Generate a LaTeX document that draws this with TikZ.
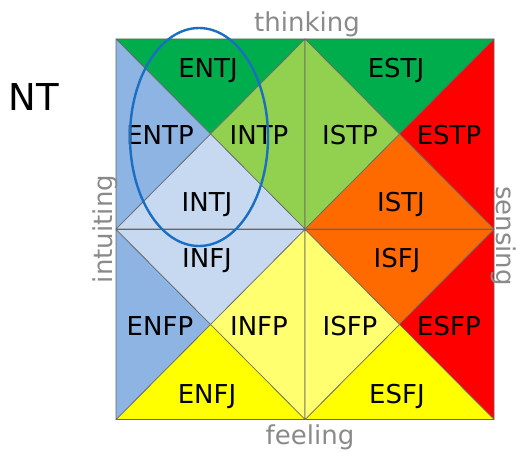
\documentclass[tikz,border=0pt]{standalone}
\usepackage{fontspec}
\setmainfont{DejaVu Sans}
\usetikzlibrary{positioning}
\definecolor{darkgreen}{HTML}{00AD4C}
\definecolor{lightgreen}{HTML}{92D050}
\definecolor{typered}{HTML}{FF0000}
\definecolor{typeorange}{HTML}{FF6A00}
\definecolor{typeyellow}{HTML}{FFFF00}
\definecolor{paleyellow}{HTML}{FFFF70}
\definecolor{midblue}{HTML}{8DB4E2}
\definecolor{paleblue}{HTML}{C6D9F1}
\definecolor{sidegray}{HTML}{8A8A8A}
\definecolor{ringblue}{HTML}{1A6FC2}

\begin{document}
\begin{tikzpicture}[x=1pt, y=-1pt,
        piece/.style={draw=black!60, line width=0.6pt, line join=round},
        mbti/.style={font=\fontsize{26}{26}\selectfont, inner sep=0pt, anchor=base},
        side/.style={font=\fontsize{26}{26}\selectfont, text=sidegray, inner sep=0pt, anchor=base},
        group/.style={draw=ringblue, line width=2.4pt}
    ]
        \useasboundingbox (0,0) rectangle (516,452);

        % four quadrants: centre, then colours of top, right, bottom, left triangle
        \foreach \cx/\cy/\ct/\cr/\cb/\cl in {
            210.5/134/darkgreen/lightgreen/paleblue/midblue,
            399.5/134/darkgreen/typered/typeorange/lightgreen,
            210.5/324.5/paleblue/paleyellow/typeyellow/midblue,
            399.5/324.5/typeorange/typered/typeyellow/paleyellow}{
            \coordinate (m) at (\cx,\cy);
            \coordinate (a) at (\cx-94.5,\cy-95);
            \coordinate (b) at (\cx+94.5,\cy-95);
            \coordinate (c) at (\cx+94.5,\cy+95);
            \coordinate (d) at (\cx-94.5,\cy+95);
            \filldraw[piece, fill=\ct] (a) -- (b) -- (m) -- cycle;
            \filldraw[piece, fill=\cr] (b) -- (c) -- (m) -- cycle;
            \filldraw[piece, fill=\cb] (c) -- (d) -- (m) -- cycle;
            \filldraw[piece, fill=\cl] (d) -- (a) -- (m) -- cycle;
        }

        % type labels
        \node[mbti] (entj) at (208,77) {ENTJ};
        \node[mbti] (entp) at (160,144) {ENTP};
        \node[mbti] (intp) at (259,144) {INTP};
        \node[mbti] (intj) at (207,211) {INTJ};

        \node[mbti] (estj) at (396,77) {ESTJ};
        \node[mbti] (istp) at (350,144) {ISTP};
        \node[mbti] (estp) at (449,144) {ESTP};
        \node[mbti] (istj) at (401,211) {ISTJ};

        \node[mbti] (infj) at (207,267) {INFJ};
        \node[mbti] (enfp) at (160,335) {ENFP};
        \node[mbti] (infp) at (259,335) {INFP};
        \node[mbti] (enfj) at (207,403) {ENFJ};

        \node[mbti] (isfj) at (397,267) {ISFJ};
        \node[mbti] (isfp) at (350,335) {ISFP};
        \node[mbti] (esfp) at (449,335) {ESFP};
        \node[mbti] (esfj) at (397,403) {ESFJ};

        % axis words
        \node[side] (thinking) at (307,32) {thinking};
        \node[side] (feeling) at (310,444) {feeling};
        \node[side, rotate=90] (intuiting) at (112,229) {intuiting};
        \node[side, rotate=-90] (sensing) at (496.5,236) {sensing};

        % NT group
        \node[font=\fontsize{37}{37}\selectfont, inner sep=0pt, anchor=base] (nt) at (33.5,110) {NT};
        \draw[group] (199,137) ellipse [x radius=69pt, y radius=109pt];
    \end{tikzpicture}
\end{document}
